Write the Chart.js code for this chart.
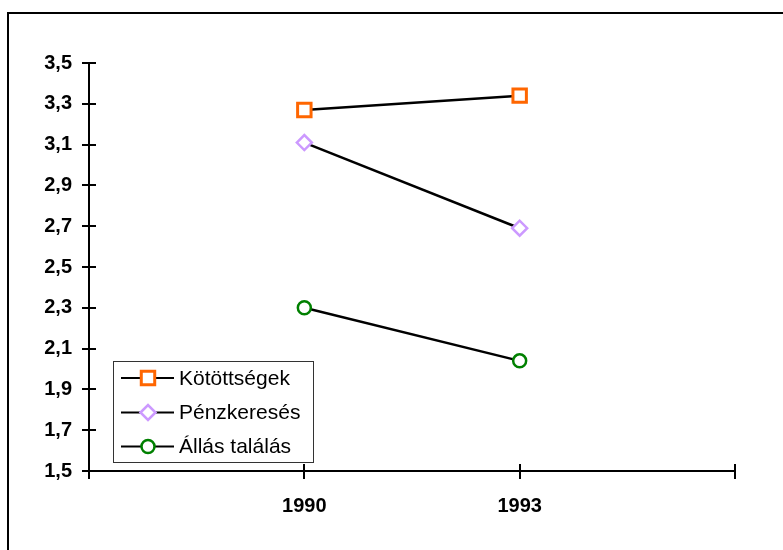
<!DOCTYPE html>
<html>
<head>
<meta charset="utf-8">
<script src="https://cdn.jsdelivr.net/npm/chart.js@4/dist/chart.umd.min.js"></script>
<style>
  body { margin: 0; background: #fff; }
  #wrap { position: relative; width: 783px; height: 550px; overflow: hidden; }
  #frame { position: absolute; left: 7px; top: 12px; width: 900px; height: 700px;
           border-left: 2px solid #000; border-top: 2px solid #000; }
  #chart { position: absolute; left: 0; top: 0; }
</style>
</head>
<body>
<div id="wrap">
  <div id="frame"></div>
  <canvas id="chart" width="783" height="550"></canvas>
</div>
<script>
// ── Data ──────────────────────────────────────────────────
const years        = ["", "1990", "1993", ""];
const kotottsegek  = [null, 3.27, 3.34, null];
const penzkereses  = [null, 3.11, 2.69, null];
const allasTalalas = [null, 2.30, 2.04, null];
const yMin = 1.5, yMax = 3.5, yStep = 0.2;

const FONT = "Arial, 'Liberation Sans', sans-serif";

// ── Ticks crossing the axis lines ────────────────────────
const crossTicks = {
  id: "crossTicks",
  afterDraw(chart) {
    const { ctx, scales: { x, y } } = chart;
    ctx.save();
    ctx.strokeStyle = "#000";
    ctx.lineWidth = 2;
    ctx.beginPath();
    y.ticks.forEach((t, i) => {
      const py = Math.round(y.getPixelForTick(i));
      ctx.moveTo(y.right - 7, py);
      ctx.lineTo(y.right + 7, py);
    });
    x.ticks.forEach((t, i) => {
      const px = Math.round(x.getPixelForTick(i));
      ctx.moveTo(px, x.top - 7);
      ctx.lineTo(px, x.top + 8);
    });
    ctx.stroke();
    ctx.restore();
  },
};

// ── Boxed legend inside the plot ─────────────────────────
const boxLegend = {
  id: "boxLegend",
  afterDraw(chart) {
    const ctx = chart.ctx;
    const left = 113, top = 361, w = 200, h = 101;
    const rowY = [378, 412.5, 446.5];
    ctx.save();
    ctx.strokeStyle = "#333";
    ctx.lineWidth = 1;
    ctx.strokeRect(left + 0.5, top + 0.5, w, h);
    ctx.font = "21px " + FONT;
    ctx.textBaseline = "middle";
    chart.data.datasets.forEach((ds, i) => {
      const yy = rowY[i];
      ctx.strokeStyle = "#000";
      ctx.lineWidth = 2;
      ctx.beginPath();
      ctx.moveTo(121, yy);
      ctx.lineTo(174, yy);
      ctx.stroke();
      ctx.fillStyle = "#fff";
      ctx.strokeStyle = ds.pointBorderColor;
      ctx.lineWidth = ds.pointBorderWidth;
      Chart.helpers.drawPoint(ctx, {
        pointStyle: ds.pointStyle, radius: ds.pointRadius,
        rotation: 0, borderWidth: ds.pointBorderWidth,
      }, 148, yy);
      ctx.fillStyle = "#000";
      ctx.fillText(ds.label, 179, yy + 1);
    });
    ctx.restore();
  },
};

function series(label, data, color, style, radius, bw) {
  return {
    label, data,
    borderColor: "#000",
    borderWidth: 2.5,
    pointStyle: style,
    pointRadius: radius,
    pointHoverRadius: radius,
    pointBackgroundColor: "#fff",
    pointBorderColor: color,
    pointBorderWidth: bw,
    spanGaps: false,
  };
}

new Chart(document.getElementById("chart"), {
  type: "line",
  data: {
    labels: years,
    datasets: [
      series("Kötöttségek", kotottsegek, "#FF6600", "rect", 9.5, 3),
      series("Pénzkeresés", penzkereses, "#CC99FF", "rectRot", 7.5, 2.5),
      series("Állás találás", allasTalalas, "#008000", "circle", 6.5, 2.5),
    ],
  },
  options: {
    responsive: false,
    animation: false,
    layout: { padding: { top: 63, right: 48, left: 0, bottom: 0 } },
    scales: {
      x: {
        offset: false,
        grid: { display: false, drawTicks: false },
        border: { display: true, color: "#000", width: 2 },
        ticks: {
          color: "#000", padding: 23, autoSkip: false, maxRotation: 0,
          font: { family: FONT, size: 20, weight: "bold" },
        },
        afterFit: s => { s.height = 79; },
      },
      y: {
        min: yMin, max: yMax,
        grid: { display: false, drawTicks: false },
        border: { display: true, color: "#000", width: 2 },
        ticks: {
          stepSize: yStep, color: "#000", padding: 17,
          font: { family: FONT, size: 20, weight: "bold" },
          callback: v => v.toFixed(1).replace(".", ","),
        },
        afterFit: s => { s.width = 89; },
      },
    },
    plugins: {
      legend: { display: false },
      tooltip: { enabled: false },
    },
  },
  plugins: [crossTicks, boxLegend],
});
</script>
</body>
</html>
